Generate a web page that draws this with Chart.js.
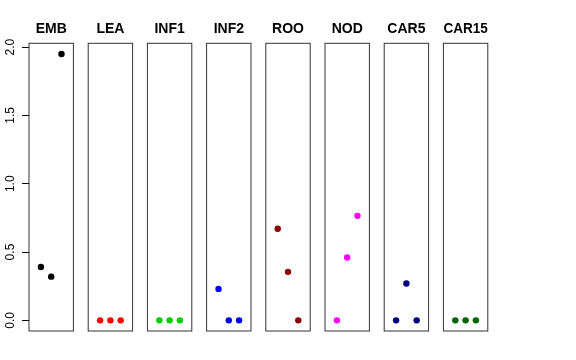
<!DOCTYPE html>
<html>
<head>
<meta charset="utf-8">
<script src="https://cdn.jsdelivr.net/npm/chart.js@4.4.0/dist/chart.umd.min.js"></script>
<style>
  html,body{margin:0;padding:0;background:#fff;}
  #wrap{position:relative;width:576px;height:360px;overflow:hidden;}
  #wrap canvas{position:absolute;top:0;}
</style>
</head>
<body>
<div id="wrap"></div>
<script>
// panels and their three values each (x = 1, 2, 3)
const panels  = ['EMB','LEA','INF1','INF2','ROO','NOD','CAR5','CAR15'];
const colors  = ['#000000','#FF0000','#00CD00','#0000FF','#8B0000','#FF00FF','#000080','#006400'];
const xPos    = [1, 2, 3];
const valEMB   = [0.39, 0.32, 1.95];
const valLEA   = [0, 0, 0];
const valINF1  = [0, 0, 0];
const valINF2  = [0.23, 0, 0];
const valROO   = [0.67, 0.355, 0];
const valNOD   = [0, 0.46, 0.765];
const valCAR5  = [0, 0.27, 0];
const valCAR15 = [0, 0, 0];
const values  = [valEMB, valLEA, valINF1, valINF2, valROO, valNOD, valCAR5, valCAR15];
const yTicks  = [0, 0.5, 1, 1.5, 2];

const FONT = 'Liberation Sans, Arial, Helvetica, sans-serif';
const PANEL_L = 29, PANEL_W = 44.4, STEP = 59.2, TOP = 43.3, BOTTOM = 331, PAD = 7;

// frame around each plot region
const boxPlugin = {
  id: 'box',
  afterDraw(chart) {
    const a = chart.chartArea, ctx = chart.ctx;
    ctx.save();
    ctx.strokeStyle = '#333';
    ctx.lineWidth = 1;
    ctx.strokeRect(a.left, a.top, a.right - a.left, a.bottom - a.top);
    ctx.restore();
  }
};

const wrap = document.getElementById('wrap');

panels.forEach((name, i) => {
  const first = i === 0;
  const areaLeft = PANEL_L + STEP * i;
  const left = first ? 0 : Math.round(areaLeft - PAD);
  const width = first ? Math.ceil(PANEL_L + PANEL_W + PAD) : 59;
  const cv = document.createElement('canvas');
  cv.width = width; cv.height = 360;
  cv.style.left = left + 'px';
  cv.style.width = width + 'px'; cv.style.height = '360px';
  wrap.appendChild(cv);

  const padL = first ? 0 : areaLeft - left;
  const padR = width - (areaLeft - left) - PANEL_W;

  const yScale = {
    type: 'linear', min: -0.078, max: 2.028, display: first,
    afterBuildTicks: s => { s.ticks = yTicks.map(v => ({ value: v })); },
    border: { display: false },
    grid: { drawOnChartArea: false, drawTicks: true, tickLength: 7, color: '#000', lineWidth: 1 },
    ticks: {
      color: '#000', font: { family: FONT, size: 12 }, padding: 3,
      minRotation: 90, maxRotation: 90, crossAlign: 'center',
      callback: v => v.toFixed(1)
    }
  };
  if (first) yScale.afterFit = s => { s.width = PANEL_L; };

  new Chart(cv.getContext('2d'), {
    type: 'scatter',
    data: {
      datasets: [{
        data: xPos.map((x, k) => ({ x: x, y: values[i][k] })),
        backgroundColor: colors[i], borderColor: colors[i],
        pointRadius: 3.2, borderWidth: 0
      }]
    },
    options: {
      responsive: false, animation: false, devicePixelRatio: 1,
      layout: { padding: { left: padL, right: padR, top: 0, bottom: 360 - BOTTOM } },
      plugins: {
        legend: { display: false }, tooltip: { enabled: false },
        title: {
          display: true, text: name, color: '#000', fullSize: false,
          font: { family: FONT, size: 14, weight: 'bold', lineHeight: 1 },
          padding: { top: 22, bottom: TOP - 22 - 14 }
        }
      },
      scales: {
        x: { type: 'linear', min: -0.16, max: 4.16, display: false },
        y: yScale
      }
    },
    plugins: [boxPlugin]
  });
});
</script>
</body>
</html>
